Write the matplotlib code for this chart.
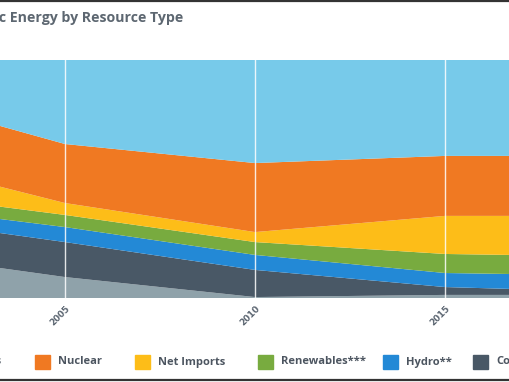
import numpy as np
import matplotlib.pyplot as plt
from matplotlib.patches import Rectangle
from matplotlib.lines import Line2D

# share of electric energy (%), stacked bottom -> top
years = [2000, 2005, 2010, 2015, 2020]
other = [19.9, 8.8, 0.4, 1.3, 1.3]
coal = [14.7, 14.7, 11.4, 3.3, 1.0]
hydro = [5.1, 6.3, 6.3, 5.9, 7.0]
renewables = [5.4, 5.1, 5.4, 8.0, 8.0]
net_imports = [14.9, 5.0, 4.2, 16.0, 17.2]
nuclear = [26.9, 24.8, 29.0, 25.2, 25.2]
natural_gas = [13.1, 35.3, 43.3, 40.3, 40.3]

series = [other, coal, hydro, renewables, net_imports, nuclear, natural_gas]
colors = ["#8fa2aa", "#495866", "#2389d6", "#78ab3f", "#fdbd18", "#f07922", "#77caea"]

legend_names = ["Natural Gas", "Nuclear", "Net Imports", "Renewables***", "Hydro**", "Coal"]
legend_colors = ["#77caea", "#f07922", "#fdbd18", "#78ab3f", "#2389d6", "#495866"]
tick_years = [2005, 2010, 2015]

W, H = 510, 382
fig = plt.figure(figsize=(W / 100, H / 100), dpi=100)
fig.patch.set_facecolor("white")

# plot area is cropped on both sides in the reference
ax = fig.add_axes([0, 1 - 298 / H, 1, (298 - 60) / H])
ax.stackplot(years, *series, colors=colors, linewidth=0)
ax.set_xlim(2005 - 65 / 38, 2015 + 65 / 38)
ax.set_ylim(0, 100)
for yr in tick_years:
    ax.axvline(yr, color="white", lw=1.0, alpha=0.85)

ax.set_yticks([])
ax.set_xticks(tick_years)
ax.set_xticklabels([str(y) for y in tick_years], rotation=45, ha="right",
                   rotation_mode="anchor", fontsize=6.3, color="#5a6470",
                   fontweight="bold")
ax.tick_params(axis="x", length=0, pad=4)
for s in ax.spines.values():
    s.set_visible(False)

# title (left part cut off, as in the source)
fig.text(183 / W, 1 - 22 / H, "Electric Energy by Resource Type", ha="right",
         va="baseline", fontsize=10.2, fontweight="bold", color="#5d6771",
         family="Open Sans")

# legend row
ly = 362
patch_x = [-88, 35, 135, 258, 383, 473]
for name, col, px in zip(legend_names, legend_colors, patch_x):
    fig.patches.append(Rectangle((px / W, 1 - (ly + 7) / H), 15 / W, 14 / H,
                                 transform=fig.transFigure, color=col))
    fig.text((px + 23) / W, 1 - ly / H, name, ha="left", va="center",
             fontsize=8, fontweight="bold", color="#4c5560", family="Open Sans")

# dark frame lines of the screenshot
fig.add_artist(Line2D([0, 1], [1 - 0.8 / H, 1 - 0.8 / H], color="#333333", lw=1.6))
fig.add_artist(Line2D([0, 1], [1 - 380 / H, 1 - 380 / H], color="#333333", lw=1.6))

fig.savefig("out.png", dpi=100)
